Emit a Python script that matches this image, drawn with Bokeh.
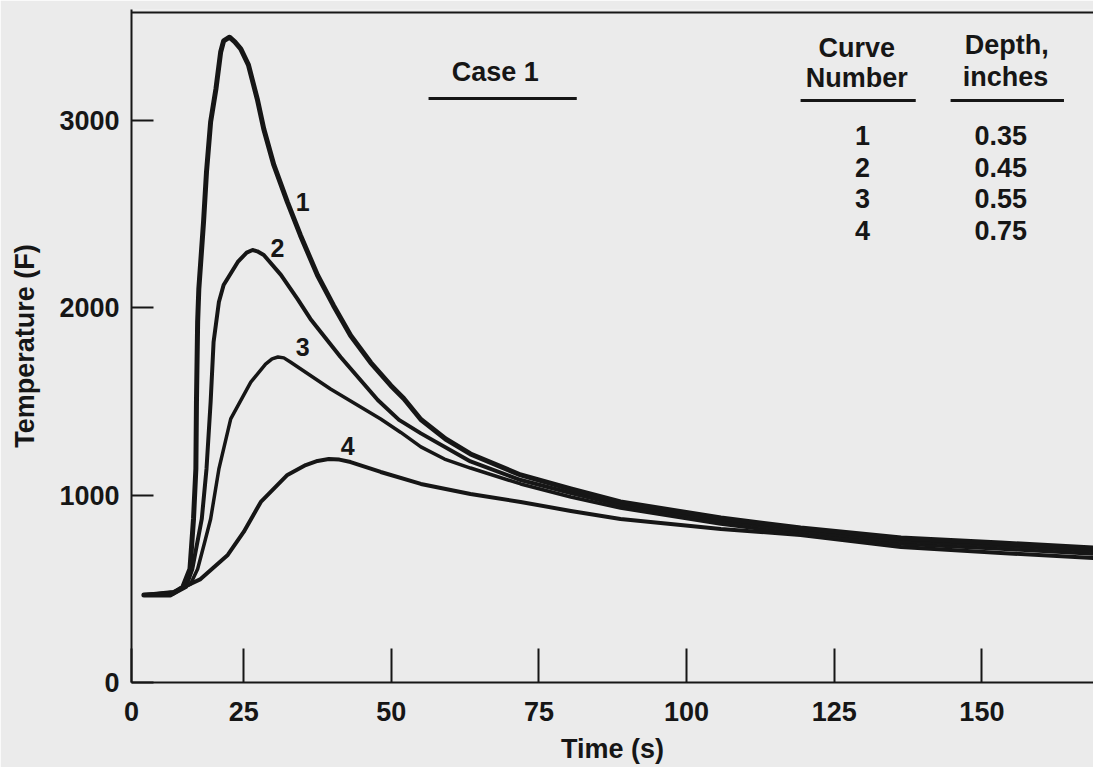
from bokeh.plotting import figure
from bokeh.models import FixedTicker, Range1d, Span, Label
from bokeh.embed import file_html
from bokeh.resources import INLINE

# ---- data (time in s, temperature in F) ----
time_1 = [8.1, 12.6, 14.7, 15.9, 16.5, 16.9, 17.0, 17.2, 17.4, 18.2, 18.7, 19.4, 20.3, 21.1, 21.6,
          22.6, 23.5, 24.5, 25.8, 27.3, 28.4, 30.1, 32.4, 34.6, 37.5, 40.2, 43.1, 46.5, 49.9,
          52.1, 55.0, 59.2, 63.4, 71.9, 80.4, 88.8, 105.8, 119.3, 136.3, 153.2, 168.9]
temp_1 = [467, 467, 510, 606, 873, 1140, 1498, 1925, 2101, 2459, 2726, 2993, 3169, 3366, 3425,
          3445, 3420, 3383, 3297, 3115, 2955, 2763, 2565, 2388, 2174, 2013, 1853, 1708, 1586,
          1516, 1404, 1300, 1220, 1108, 1033, 964, 878, 825, 771, 745, 718]

time_2 = [8.1, 13.0, 15.2, 16.3, 17.9, 18.7, 19.4, 19.9, 20.8, 21.6, 24.0, 25.5, 26.5, 27.3,
          28.4, 31.3, 34.1, 36.3, 41.4, 47.7, 51.3, 55.0, 63.4, 71.9, 80.4, 88.8, 105.8, 119.3,
          136.3, 153.2, 168.9]
temp_2 = [467, 472, 510, 606, 873, 1140, 1498, 1818, 2031, 2122, 2245, 2295, 2309, 2302,
          2282, 2176, 2048, 1941, 1738, 1508, 1402, 1330, 1180, 1081, 1012, 948, 862, 809,
          755, 729, 702]

time_3 = [8.1, 13.5, 16.0, 17.2, 18.4, 19.4, 20.8, 22.8, 26.2, 28.7, 29.8, 30.8, 31.8, 32.9,
          39.7, 48.2, 51.6, 55.0, 59.0, 63.4, 71.9, 80.4, 88.8, 105.8, 119.3, 136.3, 153.2, 168.9]
temp_3 = [467, 483, 526, 606, 750, 873, 1140, 1407, 1604, 1700, 1728, 1738, 1733, 1711,
          1567, 1407, 1335, 1258, 1193, 1145, 1060, 990, 932, 846, 793, 739, 713, 686]

time_4 = [8.1, 13.1, 17.7, 22.3, 25.0, 27.9, 32.4, 35.5, 37.5, 39.4, 41.2, 43.1, 48.2, 55.0,
          63.4, 71.9, 80.4, 88.8, 105.8, 119.3, 136.3, 153.2, 168.9]
temp_4 = [467, 483, 552, 681, 804, 964, 1108, 1161, 1183, 1193, 1190, 1177, 1124, 1060,
          1006, 964, 916, 873, 820, 788, 723, 691, 665]

curve_numbers = ["1", "2", "3", "4"]
depths = ["0.35", "0.45", "0.55", "0.75"]

x_ticks = [6, 25, 50, 75, 100, 125, 150]
x_tick_labels = ["0", "25", "50", "75", "100", "125", "150"]
y_ticks = [0, 1000, 2000, 3000]
y_tick_labels = ["0", "1000", "2000", "3000"]

FONT = "Liberation Sans"
INK = "#161616"
BG = "#ebebeb"

p = figure(width=1093, height=767, output_backend="svg", toolbar_location=None,
           x_range=Range1d(6, 168.9), y_range=Range1d(0, 3593),
           min_border_left=131, min_border_right=0, min_border_top=9, min_border_bottom=85,
           x_axis_label="Time (s)", y_axis_label="Temperature (F)")
p.background_fill_color = BG
p.border_fill_color = BG
p.outline_line_color = None
p.grid.visible = False

for ax, ticks, labels in ((p.xaxis[0], x_ticks, x_tick_labels), (p.yaxis[0], y_ticks, y_tick_labels)):
    ax.ticker = FixedTicker(ticks=ticks)
    ax.major_label_overrides = dict(zip(ticks, labels))
    ax.minor_tick_line_color = None
    ax.major_tick_out = 0
    ax.axis_line_color = INK
    ax.axis_line_width = 2
    ax.major_tick_line_color = INK
    ax.major_tick_line_width = 2
    ax.major_label_text_font = FONT
    ax.major_label_text_font_style = "bold"
    ax.major_label_text_font_size = "27px"
    ax.major_label_text_color = INK
    ax.axis_label_text_font = FONT
    ax.axis_label_text_font_style = "bold"
    ax.axis_label_text_font_size = "27px"
    ax.axis_label_text_color = INK

p.xaxis.major_tick_in = 34
p.xaxis.major_label_standoff = 19
p.xaxis.axis_label_standoff = 10
p.yaxis.major_tick_in = 22
p.yaxis.major_label_standoff = 12
p.yaxis.axis_label_standoff = 16

# top border
p.add_layout(Span(location=3577, dimension="width", line_color=INK, line_width=2))

# curves
for t, T, w in ((time_4, temp_4, 4), (time_3, temp_3, 3.5), (time_2, temp_2, 4), (time_1, temp_1, 5)):
    p.line(t, T, line_color=INK, line_width=w, line_join="round", line_cap="round")

def lab(x, y, text, size="27px", align="center"):
    p.add_layout(Label(x=x, y=y, text=text, text_font=FONT, text_font_style="bold",
                       text_font_size=size, text_color=INK, text_align=align,
                       text_baseline="middle"))

# curve labels
for x, y, s in ((35.0, 2563, "1"), (30.7, 2322, "2"), (35.0, 1789, "3"), (42.6, 1265, "4")):
    lab(x, y, s, size="25px")

# case title and table
lab(67.6, 3257, "Case 1")
lab(128.8, 3390, "Curve")
lab(128.8, 3225, "Number")
lab(154.2, 3401, "Depth,")
lab(154.0, 3230, "inches")
row_y = [2920, 2750, 2584, 2413]
for yy, n, d in zip(row_y, curve_numbers, depths):
    lab(129.8, yy, n)
    lab(153.2, yy, d)

p.segment(x0=[56.3, 119.3, 144.7], y0=[3118, 3107, 3107],
          x1=[81.4, 138.8, 163.9], y1=[3118, 3107, 3107], line_color=INK, line_width=3)

html = file_html(p, INLINE)
html = html.replace("<body>", '<body style="background:#ebebeb">', 1)
open("out.html", "w").write(html)
